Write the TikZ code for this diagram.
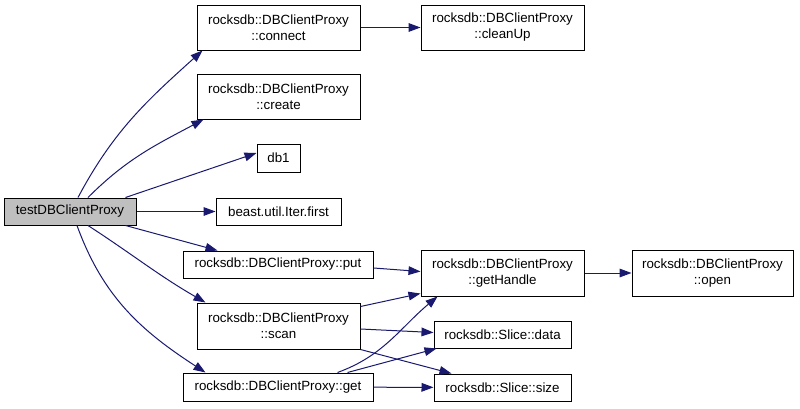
\documentclass[tikz,border=0pt]{standalone}
\usepackage{fontspec}
\setmainfont{Liberation Sans}
\usepackage{tikz}
\usetikzlibrary{arrows.meta,calc}
\definecolor{callblue}{RGB}{25,25,112}
\definecolor{rootgray}{RGB}{191,191,191}

\begin{document}
\begin{tikzpicture}[
    x=0.75pt, y=-0.75pt,
    dims/.style 2 args={minimum width=#1*0.75pt, minimum height=#2*0.75pt},
    fn/.style={draw=black, fill=white, line width=0.75pt, inner sep=0pt, align=center, font=\fontsize{10}{12}\selectfont},
    root/.style={fn, fill=rootgray},
    call/.style={-{Triangle[length=9pt, width=6.5pt]}, line width=0.75pt, draw=callblue}
]
    \useasboundingbox (0,0) rectangle (800,408);

    \node[root, dims={132}{27}] (test) at (70,211.5) {testDBClientProxy};

    \node[fn, dims={163}{45}] (connect) at (278.5,27.5) {rocksdb::DBClientProxy\\::connect};
    \node[fn, dims={163}{45}] (cleanup) at (502.5,27.5) {rocksdb::DBClientProxy\\::cleanUp};
    \node[fn, dims={163}{45}] (create) at (278.5,96.5) {rocksdb::DBClientProxy\\::create};
    \node[fn, dims={43}{28}] (db1) at (278.5,158) {db1};
    \node[fn, dims={125}{27}] (first) at (278.5,211.5) {beast.util.Iter.first};
    \node[fn, dims={190}{27}] (put) at (278,264.5) {rocksdb::DBClientProxy::put};
    \node[fn, dims={163}{46}] (scan) at (278.5,326) {rocksdb::DBClientProxy\\::scan};
    \node[fn, dims={190}{28}] (get) at (278,387) {rocksdb::DBClientProxy::get};

    \node[fn, dims={163}{46}] (handle) at (502.5,273) {rocksdb::DBClientProxy\\::getHandle};
    \node[fn, dims={137}{27}] (data) at (502.5,334.5) {rocksdb::Slice::data};
    \node[fn, dims={137}{27}] (slicesize) at (502.5,387.5) {rocksdb::Slice::size};
    \node[fn, dims={161}{46}] (open) at (712.5,273) {rocksdb::DBClientProxy\\::open};

    % calls from the test
    \draw[call] ($(test.north)+(8,0)$) to[out=62, in=-138] ($(connect.south west)+(6,0)$);
    \draw[call] ($(test.north)+(18,0)$) to[out=45, in=-152] ($(create.south west)+(7,0)$);
    \draw[call] ($(test.north east)+(-11,0)$) -- ($(db1.west)+(0,-5)$);
    \draw[call] (test) -- (first);
    \draw[call] ($(test.south east)+(-11,0)$) -- ($(put.north west)+(35,0)$);
    \draw[call] ($(test.south)+(18,0)$) to[out=-33, in=150] ($(scan.north west)+(9,0)$);
    \draw[call] ($(test.south)+(7,0)$) to[out=-70, in=147] ($(get.north west)+(23,0)$);

    % second level
    \draw[call] (connect) -- (cleanup);
    \draw[call] ($(put.east)+(0,3.5)$) -- ($(handle.west)+(0,-1.5)$);
    \draw[call] ($(scan.north east)+(0,4)$) -- ($(handle.south west)+(0,-3)$);
    \draw[call] ($(scan.east)+(0,3)$) -- ($(data.west)+(0,-2)$);
    \draw[call] (scan.south east) -- ($(slicesize.north west)+(18,0)$);
    \draw[call] ($(get.north east)+(-36,0)$) to[out=20, in=-140] ($(handle.south west)+(17,0)$);
    \draw[call] ($(get.north east)+(-26,0)$) -- ($(data.south west)+(3,0)$);
    \draw[call] (get) -- (slicesize);
    \draw[call] (handle) -- (open);
\end{tikzpicture}
\end{document}
